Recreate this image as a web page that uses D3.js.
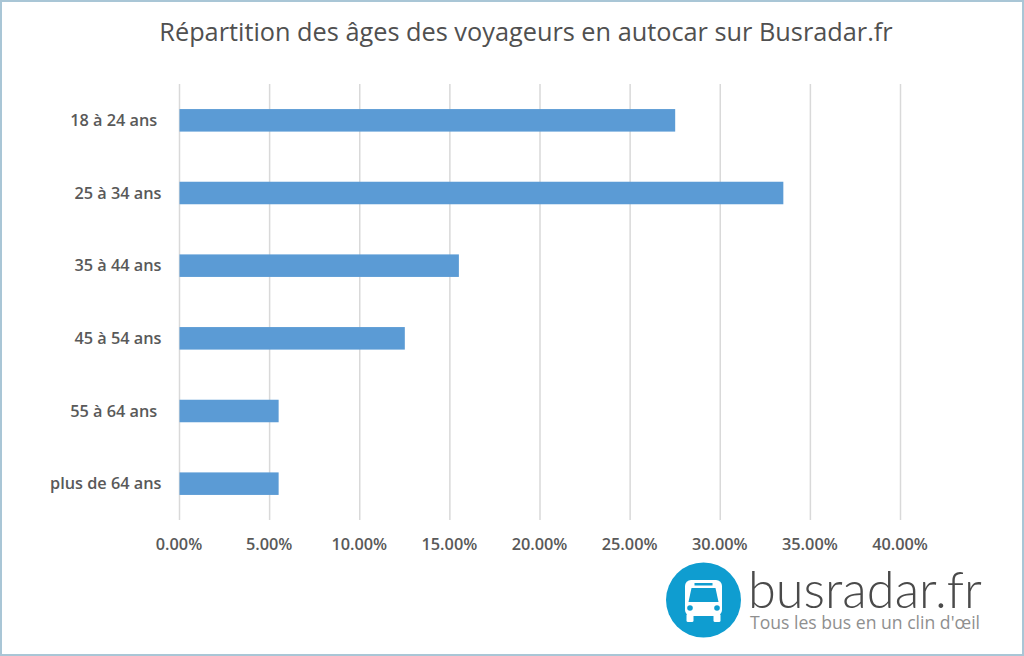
<!DOCTYPE html>
<html>
<head>
<meta charset="utf-8">
<title>Répartition des âges</title>
<script src="https://cdn.jsdelivr.net/npm/d3@7"></script>
<style>
    html, body { margin: 0; padding: 0; background: #fff; }
    svg { display: block; }
    text { font-family: "Open Sans", "Noto Sans", sans-serif; }
    .axis text { font-family: "Open Sans", sans-serif; font-size: 16.3px; font-weight: 600; fill: #595959; }
    .logoName { font-family: Lato, sans-serif; font-size: 50.5px; font-weight: 300; fill: #4a4a4a; }
    .logoTag { font-size: 17.6px; fill: #8f8f8f; }
</style>
</head>
<body>
<div id="chart"></div>
<script>
var categories = ['18 à 24 ans\u00a0', '25 à 34 ans', '35 à 44 ans', '45 à 54 ans', '55 à 64 ans\u00a0', 'plus de 64 ans'];
var values = [27.5, 33.5, 15.5, 12.5, 5.5, 5.5];
var ticks = [0, 5, 10, 15, 20, 25, 30, 35, 40];
var chartTitle = 'Répartition des âges des voyageurs en autocar sur Busradar.fr';

var width = 1024;
var height = 656;
var margin = {top: 84, right: 123.5, bottom: 136, left: 179.5};

var svg = d3.select('#chart').append('svg')
    .attr('width', width)
    .attr('height', height);

// frame
svg.append('rect')
    .attr('x', 1)
    .attr('y', 1)
    .attr('width', width - 2)
    .attr('height', height - 2)
    .attr('fill', '#fff')
    .attr('stroke', '#a9c6d6')
    .attr('stroke-width', 2);

svg.append('text')
    .attr('x', 526)
    .attr('y', 41)
    .attr('text-anchor', 'middle')
    .attr('font-size', 25.3)
    .attr('fill', '#505050')
    .text(chartTitle);

var x = d3.scaleLinear()
    .domain([0, 40])
    .range([margin.left, width - margin.right]);

var y = d3.scaleBand()
    .domain(categories)
    .range([margin.top, height - margin.bottom])
    .paddingInner(0.69)
    .paddingOuter(0.345);

// grid lines
svg.append('g')
    .selectAll('line')
    .data(ticks)
    .enter().append('line')
    .attr('x1', function (d) { return x(d); })
    .attr('x2', function (d) { return x(d); })
    .attr('y1', margin.top)
    .attr('y2', height - margin.bottom)
    .attr('stroke', '#d9d9d9')
    .attr('stroke-width', 1.5);

svg.append('g')
    .selectAll('rect')
    .data(values)
    .enter().append('rect')
    .attr('x', x(0))
    .attr('y', function (d, i) { return y(categories[i]); })
    .attr('width', function (d) { return x(d) - x(0); })
    .attr('height', y.bandwidth())
    .attr('fill', '#5b9bd5');

var xAxis = svg.append('g')
    .attr('class', 'axis')
    .attr('transform', 'translate(-1,' + (height - margin.bottom) + ')')
    .call(d3.axisBottom(x)
        .tickValues(ticks)
        .tickSize(0)
        .tickPadding(18)
        .tickFormat(function (d) { return d.toFixed(2) + '%'; }));
xAxis.select('.domain').remove();

var yAxis = svg.append('g')
    .attr('class', 'axis')
    .attr('transform', 'translate(' + margin.left + ',0.5)')
    .call(d3.axisLeft(y)
        .tickSize(0)
        .tickPadding(18));
yAxis.select('.domain').remove();

// busradar logo
var logo = svg.append('g').attr('transform', 'translate(703.5,600)');
logo.append('circle')
    .attr('r', 37.5)
    .attr('fill', '#0f9dd0');
logo.append('rect')
    .attr('x', -18.5)
    .attr('y', -20)
    .attr('width', 37)
    .attr('height', 36)
    .attr('rx', 6)
    .attr('fill', '#fff');
logo.append('path')
    .attr('d', 'M-12,-12 L12,-12 L15,2 L-15,2 Z')
    .attr('fill', '#0f9dd0');
logo.append('rect')
    .attr('x', -9)
    .attr('y', -17)
    .attr('width', 18)
    .attr('height', 2.5)
    .attr('fill', '#0f9dd0');
[-13.5, 13.5].forEach(function (cx) {
    logo.append('circle')
        .attr('cx', cx)
        .attr('cy', 8)
        .attr('r', 2.8)
        .attr('fill', '#0f9dd0');
    logo.append('rect')
        .attr('x', cx - 3.5)
        .attr('y', 14)
        .attr('width', 7)
        .attr('height', 8)
        .attr('rx', 1.5)
        .attr('fill', '#fff');
});

svg.append('text')
    .attr('class', 'logoName')
    .attr('x', 748)
    .attr('y', 608)
    .text('busradar.fr');

svg.append('text')
    .attr('class', 'logoTag')
    .attr('x', 750)
    .attr('y', 629)
    .text('Tous les bus en un clin d\'œil');
</script>
</body>
</html>
